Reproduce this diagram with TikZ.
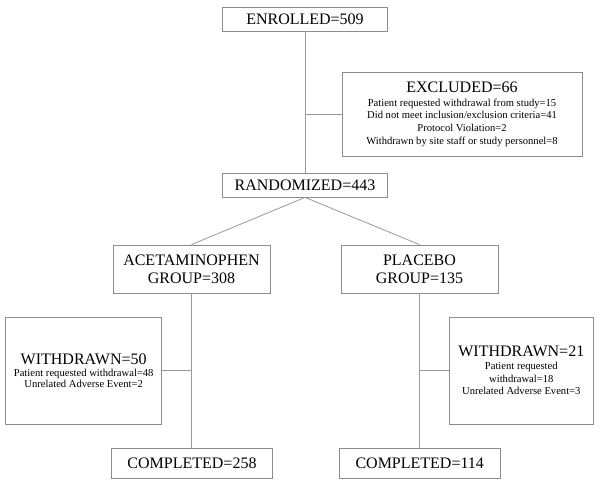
\documentclass[tikz,border=0pt]{standalone}
\usepackage{fontspec}
\setmainfont{Liberation Serif}
\newcommand{\bigf}{\fontsize{16}{18.3}\selectfont}
\newcommand{\smf}{\fontsize{10.6}{12.6}\selectfont}
\newcommand{\smfb}{\fontsize{10.6}{11}\selectfont}
\tikzset{
  box/.style={draw=black!45, line width=0.8pt, fill=white, inner sep=0pt, align=center, anchor=center},
  conn/.style={draw=black!40, line width=0.8pt}
}
\begin{document}
\begin{tikzpicture}[x=1pt, y=-1pt]
\useasboundingbox[fill=white] (0,0) rectangle (600,497);
\node[box, minimum width=165pt, minimum height=24pt, font=\bigf] (enr) at (305,19) {ENROLLED=509};
\node[box, minimum width=240pt, minimum height=84pt, font=\smf] (exc) at (462,114)
  {{\bigf EXCLUDED=66}\\[1.5pt]
   Patient requested withdrawal from study=15\\
   Did not meet inclusion/exclusion criteria=41\\
   Protocol Violation=2\\
   Withdrawn by site staff or study personnel=8};
\node[box, minimum width=165pt, minimum height=24pt, font=\bigf] (rand) at (305,185) {RANDOMIZED=443};
\node[box, minimum width=157pt, minimum height=48pt, font=\bigf] (acet) at (191.5,269) {ACETAMINOPHEN\\GROUP=308};
\node[box, minimum width=157pt, minimum height=48pt, font=\bigf] (plac) at (419.5,269) {PLACEBO\\GROUP=135};
\node[box, minimum width=156pt, minimum height=107pt, font=\smfb] (wl) at (83.7,370.5)
  {{\bigf WITHDRAWN=50}\\[0.5pt]
   Patient requested withdrawal=48\\
   Unrelated Adverse Event=2};
\node[box, minimum width=144pt, minimum height=107pt, font=\smf] (wr) at (521.3,370.5)
  {{\bigf WITHDRAWN=21}\\[0.5pt]
   Patient requested\\
   withdrawal=18\\
   Unrelated Adverse Event=3};
\node[box, minimum width=161pt, minimum height=30pt, font=\bigf] (cl) at (192,463) {COMPLETED=258};
\node[box, minimum width=160.5pt, minimum height=30pt, font=\bigf] (cr) at (419.75,463) {COMPLETED=114};
\coordinate (j1) at (enr.south |- exc.west);
\draw[conn] (enr.south) -- (rand.north);
\draw[conn] (j1) -- (exc.west);
\draw[conn] (rand.south) -- (acet.north);
\draw[conn] (rand.south) -- (plac.north);
\draw[conn] (acet.south) -- (acet.south |- cl.north);
\draw[conn] (plac.south) -- (plac.south |- cr.north);
\draw[conn] (wl.east) -- (wl.east -| acet.south);
\draw[conn] (wr.west) -- (wr.west -| plac.south);
\end{tikzpicture}
\end{document}
